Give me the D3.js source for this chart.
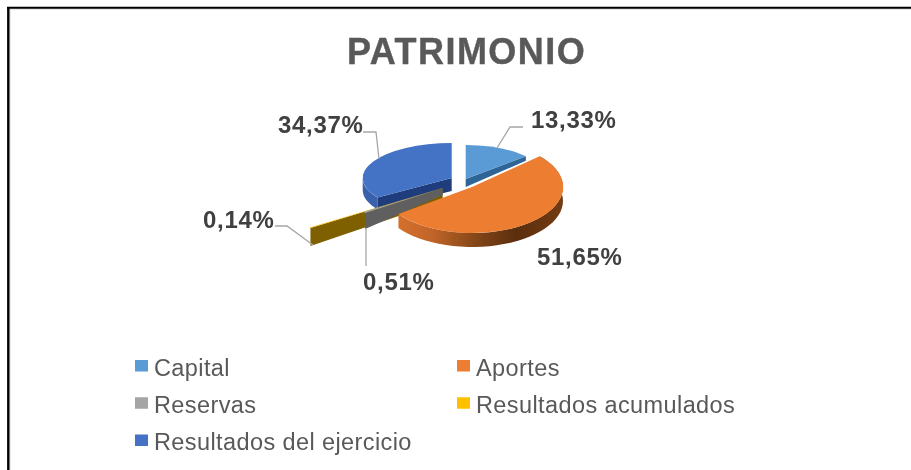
<!DOCTYPE html>
<html><head><meta charset="utf-8">
<script src="https://cdn.jsdelivr.net/npm/d3@7"></script>
<style>html,body{margin:0;padding:0;background:#fff}svg{display:block;filter:blur(0.4px)}text{font-family:"Liberation Sans",Arial,sans-serif}</style>
</head><body><svg id="c" width="911" height="470"></svg>
<script>
const title = "PATRIMONIO";
const categories = ["Capital","Aportes","Reservas","Resultados acumulados","Resultados del ejercicio"];
const values = [13.33,51.65,0.51,0.14,34.37];
const colors = ["#5b9bd5","#ed7d31","#a5a5a5","#ffc000","#4472c4"];
const wallColors = ["#2f6496","url(#aportesWall)","#5f5f5f","#7f6000","#1f3c7d"];

const svg = d3.select("#c");
const fmt = v => v.toFixed(2).replace(".", ",") + "%";

// frame: only the top and left rules appear in the picture
svg.append("line").attr("x1",8).attr("x2",911).attr("y1",9).attr("y2",9).attr("stroke","#d0d0d0").attr("stroke-width",1);
svg.append("line").attr("x1",10).attr("x2",10).attr("y1",9).attr("y2",470).attr("stroke","#d0d0d0").attr("stroke-width",1);
svg.append("line").attr("x1",7).attr("x2",911).attr("y1",7.7).attr("y2",7.7).attr("stroke","#000").attr("stroke-width",2);
svg.append("line").attr("x1",8.3).attr("x2",8.3).attr("y1",7).attr("y2",470).attr("stroke","#000").attr("stroke-width",2.4);

svg.append("text").attr("x",347).attr("y",64).attr("font-size",36).attr("font-weight","bold")
  .attr("fill","#595959").attr("stroke","#595959").attr("stroke-width",0.4).attr("letter-spacing",1.45).text(title);

const grad = svg.append("defs").append("linearGradient").attr("id","aportesWall")
  .attr("gradientUnits","userSpaceOnUse").attr("x1",398).attr("x2",563).attr("y1",0).attr("y2",0);
[[0,"#d4702c"],[0.2,"#c2652a"],[0.32,"#a55820"],[0.52,"#7a4116"],[0.72,"#5c2e0e"],[1,"#733c12"]]
  .forEach(([o,c]) => grad.append("stop").attr("offset",o).attr("stop-color",c));

const pie = d3.pie().sort(null).value(d => d)(values);

// projected ellipse of each exploded slice, and wall height at apex / rim
const geom = [
  {cx:465.7,cy:179,rx:81,ry:34,d0:8,d1:4.5,rim:null,side:"end"},
  {cx:472,cy:187,rx:91,ry:46,d0:13,d1:14,rim:"all",side:null},
  {cx:442.7,cy:188,rx:96,ry:42.5,d0:7,d1:16,rim:null,side:"start"},
  {cx:442.7,cy:188,rx:160,ry:71,d0:13,d1:18,rim:null,side:"start"},
  {cx:451.7,cy:178,rx:89,ry:35,d0:13,d1:12,rim:"left",side:"start"}
];
const unitArc = d3.arc().innerRadius(0).outerRadius(1);
const line = d3.line();
const pt = (g,a,t) => [g.cx + g.rx*t*Math.sin(a), g.cy - g.ry*t*Math.cos(a)];

function drawSlice(i){
  const p = pie[i], g = geom[i];
  const G = svg.append("g");
  if (g.rim){
    const a0 = p.startAngle;
    const a1 = g.rim==="all" ? p.endAngle : 1.5*Math.PI;
    const top = d3.range(0,41).map(k => pt(g,a0+(a1-a0)*k/40,1));
    const bot = top.map(q => [q[0],q[1]+g.d1]).reverse();
    G.append("path").attr("d", line(top.concat(bot))+"Z")
      .attr("fill", i===4 ? "#3a62ac" : wallColors[i]);
  }
  if (g.side){
    const a = g.side==="start" ? p.startAngle : p.endAngle;
    const A = pt(g,a,0), B = pt(g,a,1);
    G.append("path").attr("d", line([A,B,[B[0],B[1]+g.d1],[A[0],A[1]+g.d0]])+"Z").attr("fill",wallColors[i]);
  }
  G.append("path").attr("d", unitArc({startAngle:p.startAngle,endAngle:p.endAngle}))
    .attr("transform",`translate(${g.cx},${g.cy}) scale(${g.rx},${g.ry})`).attr("fill",colors[i]);
}
[4,0,3,2,1].forEach(drawSlice);

// leader lines, same order as the categories
const leaders = [
  [[523,127],[510,127],[497,148]],
  null,
  [[366,229],[366,266]],
  [[275,226],[287,226],[313,245]],
  [[363,132],[376,132],[379,159]]
];
leaders.forEach(l => { if(l) svg.append("path").attr("d",line(l)).attr("fill","none").attr("stroke","#a6a6a6").attr("stroke-width",1.3); });

const labelPos = [[531,128],[537,265],[363,290],[203,228],[278,133]];
svg.selectAll("text.lab").data(values).join("text").attr("class","lab")
  .attr("x",(d,i)=>labelPos[i][0]).attr("y",(d,i)=>labelPos[i][1])
  .attr("font-size",24).attr("font-weight","bold").attr("fill","#404040").attr("letter-spacing",0.7)
  .text(fmt);

// legend
const legX = d3.scalePoint().domain([0,1]).range([135,457]);
const legY = d3.scalePoint().domain([0,1,2]).range([360,434.5]);
const leg = svg.selectAll("g.leg").data(categories).join("g").attr("class","leg")
  .attr("transform",(d,i)=>`translate(${legX(i%2)},${legY(Math.floor(i/2))})`);
leg.append("rect").attr("width",13).attr("height",11.5).attr("fill",(d,i)=>colors[i]);
leg.append("text").attr("x",19).attr("y",15.5).attr("font-size",23.5).attr("fill","#595959")
  .attr("letter-spacing",0.4).text(d=>d);
</script></body></html>
